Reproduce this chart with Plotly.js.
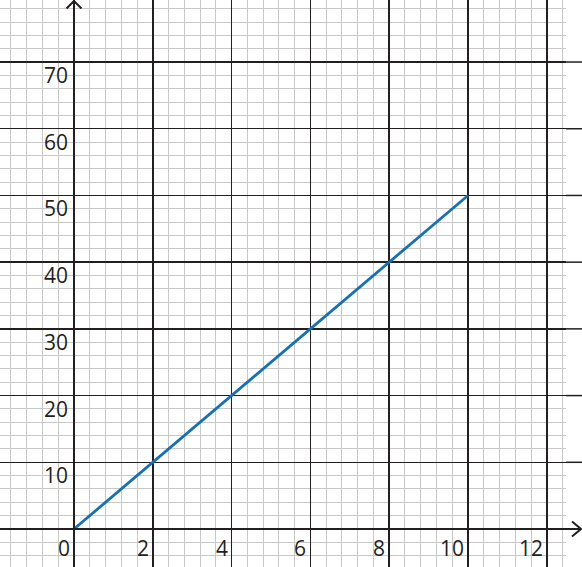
<!DOCTYPE html>
<html>
<head>
<meta charset="utf-8">
<script src="https://cdn.plot.ly/plotly-3.0.1.min.js"></script>
<style>html,body{margin:0;padding:0;background:#fff;}#chart{width:582px;height:567px;}</style>
</head>
<body>
<div id="chart"></div>
<script>
// ---- data ----
const lineX = [0, 10];
const lineY = [0, 50];
const xTickVals = [0, 2, 4, 6, 8, 10, 12];
const xTickText = ['0', '2', '4', '6', '8', '10', '12'];
const yTickVals = [10, 20, 30, 40, 50, 60, 70];
const yTickText = ['10', '20', '30', '40', '50', '60', '70'];

// ---- layout helpers ----
const W = 582, H = 567;
const PX = p => p / W;
const PY = p => 1 - p / H;
const DARK = '#231f20';
const FONT = {family: 'Open Sans, Noto Sans, sans-serif', size: 21, color: DARK};

// graph-paper subdivision positions (5 per major cell)
const minorX = [];
for (let k = -4; k <= 31; k++) if (k % 5 !== 0) minorX.push(Math.round(k * 0.4 * 1000) / 1000);
const minorY = [];
for (let k = -2; k <= 39; k++) if (k % 5 !== 0) minorY.push(k * 2);
const majorX = [];
for (let k = 0; k <= 12; k += 2) majorX.push(k);
const majorY = [];
for (let k = 0; k <= 70; k += 10) majorY.push(k);

const annotations = [];
xTickVals.forEach((v, i) => annotations.push({
  x: v, y: 0, xref: 'x', yref: 'y', text: xTickText[i], showarrow: false,
  xanchor: 'right', yanchor: 'top', xshift: -2, yshift: -3, font: FONT
}));
yTickVals.forEach((v, i) => annotations.push({
  x: 0, y: v, xref: 'x', yref: 'y', text: yTickText[i], showarrow: false,
  xanchor: 'right', yanchor: 'top', xshift: -4, yshift: 3, font: FONT
}));

const shapes = [];
// extension of major horizontal gridlines beyond the minor-grid area
yTickVals.forEach(v => shapes.push({
  type: 'line', xref: 'paper', yref: 'y', x0: PX(566), x1: 1, y0: v, y1: v,
  line: {color: DARK, width: 1.5}, layer: 'above'
}));
// axes
shapes.push({type: 'line', xref: 'paper', yref: 'y', x0: 0, x1: PX(581), y0: 0, y1: 0,
  line: {color: DARK, width: 2}, layer: 'above'});
shapes.push({type: 'line', xref: 'x', yref: 'paper', x0: 0, x1: 0, y0: 0, y1: PY(1),
  line: {color: DARK, width: 2}, layer: 'above'});
// arrow heads
shapes.push({type: 'path', xref: 'paper', yref: 'paper',
  path: `M${PX(66.5)},${PY(8.5)} L${PX(74)},${PY(1)} L${PX(81.5)},${PY(8.5)}`,
  line: {color: DARK, width: 2}, layer: 'above'});
shapes.push({type: 'path', xref: 'paper', yref: 'paper',
  path: `M${PX(572)},${PY(521.5)} L${PX(581)},${PY(529)} L${PX(572)},${PY(536.5)}`,
  line: {color: DARK, width: 2}, layer: 'above'});

const trace = {
  x: lineX, y: lineY, type: 'scatter', mode: 'lines',
  line: {color: '#1770b0', width: 2.8}, hoverinfo: 'skip'
};

const layout = {
  width: W, height: H,
  margin: {l: 0, r: 0, t: 0, b: 0, pad: 0},
  paper_bgcolor: '#ffffff', plot_bgcolor: '#ffffff',
  showlegend: false,
  xaxis: {
    domain: [0, 566 / 582],
    range: [-74 / 39.4, (566 - 74) / 39.4],
    tickmode: 'array', tickvals: majorX,
    showgrid: true, gridcolor: DARK, gridwidth: 1.5,
    minor: {tickmode: 'array', tickvals: minorX, showgrid: true, gridcolor: '#c8c8c8', gridwidth: 1},
    zeroline: false, showline: false, showticklabels: false, ticks: '',
    fixedrange: true
  },
  yaxis: {
    domain: [0, 1],
    range: [-(567 - 529) / 6.671, 529 / 6.671],
    tickmode: 'array', tickvals: majorY,
    showgrid: true, gridcolor: DARK, gridwidth: 1.5,
    minor: {tickmode: 'array', tickvals: minorY, showgrid: true, gridcolor: '#c8c8c8', gridwidth: 1},
    zeroline: false, showline: false, showticklabels: false, ticks: '',
    fixedrange: true
  },
  shapes: shapes,
  annotations: annotations
};

Plotly.newPlot('chart', [trace], layout, {displayModeBar: false, staticPlot: true});
</script>
</body>
</html>
